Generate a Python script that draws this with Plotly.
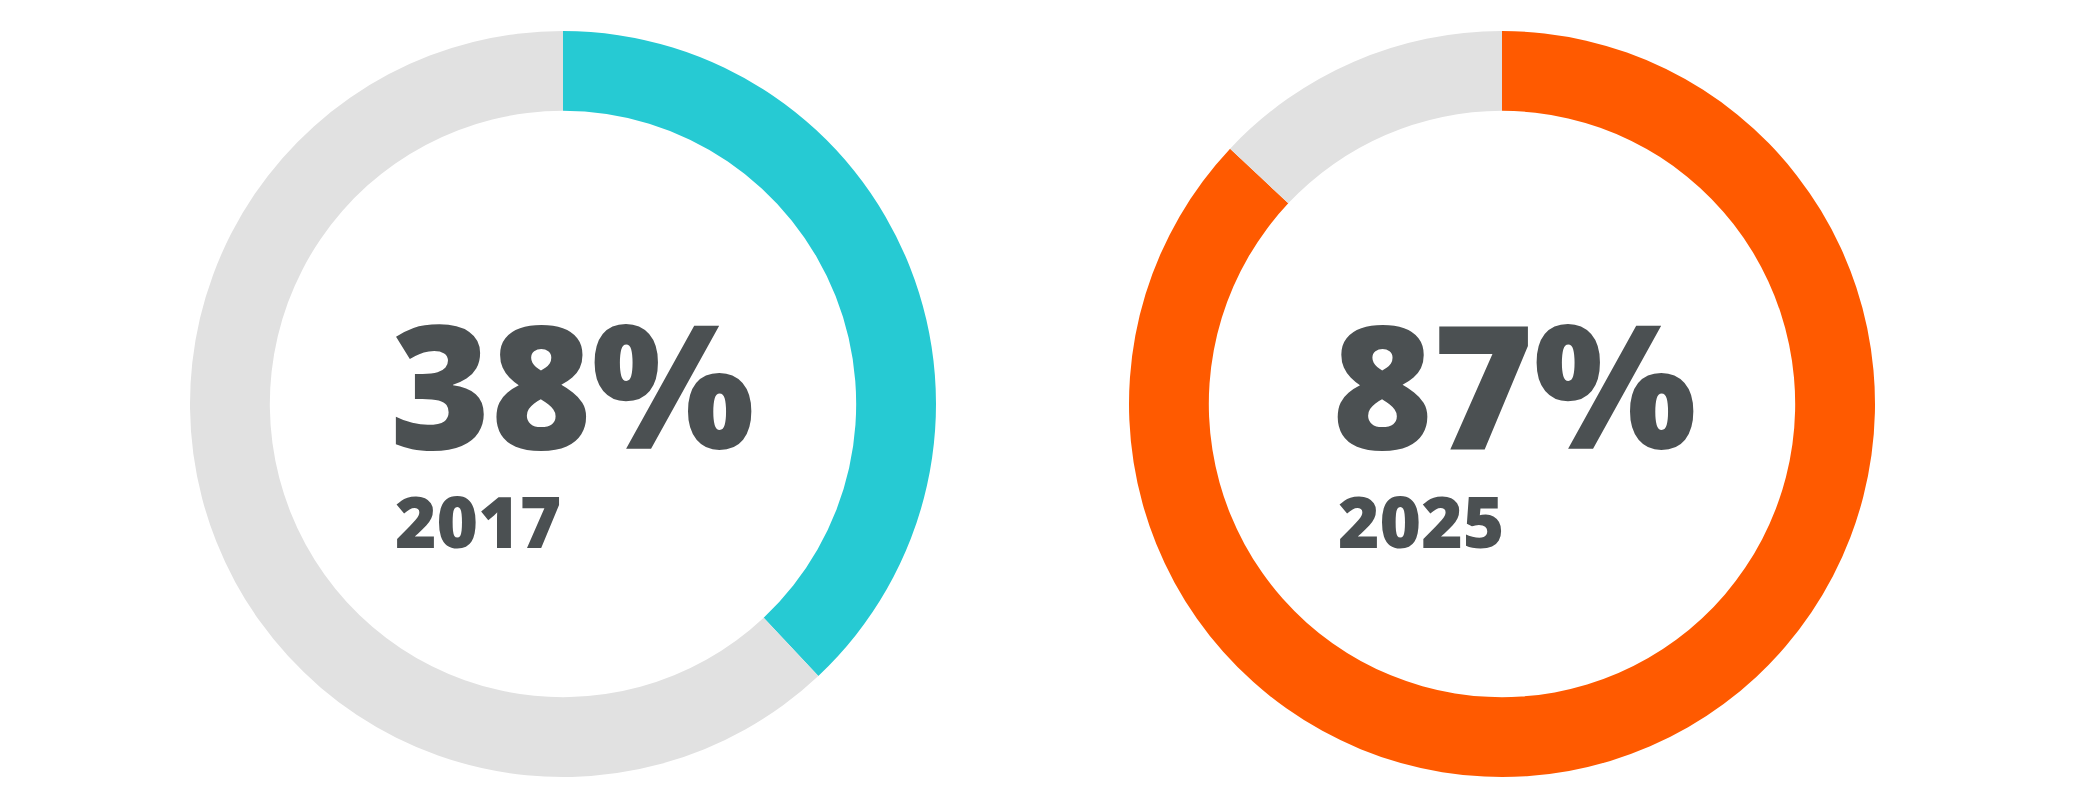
import plotly.graph_objects as go

# values
years = ["2017", "2025"]
shares = [38, 87]
accent_colors = ["#26cad3", "#ff5a00"]
rest_color = "#e1e1e1"
text_color = "#4b5052"

W, H = 2090, 799
MT, MB = 23, 30
PLOT_H = H - MT - MB

# pie placement (pixel centres) and text anchors (pixel left edge)
centres_x = [555, 1494]
radius = PLOT_H / 2
big_left = [380, 1322]
year_left = [385, 1328]


def px_x(px):
    return px / W


def px_y(py):
    return (H - MB - py) / PLOT_H


fig = go.Figure()

for i, (yr, v) in enumerate(zip(years, shares)):
    cx = centres_x[i]
    fig.add_trace(go.Pie(
        values=[v, 100 - v],
        labels=[f"{yr} yes", f"{yr} rest"],
        marker=dict(colors=[accent_colors[i], rest_color], line=dict(width=0)),
        hole=0.786,
        sort=False,
        direction="clockwise",
        rotation=0,
        textinfo="none",
        hoverinfo="skip",
        showlegend=False,
        domain=dict(x=[px_x(cx - radius), px_x(cx + radius)], y=[0, 1]),
    ))

    # big percentage, baseline around y=441
    fig.add_annotation(
        text=f"{v}%", x=px_x(big_left[i]), y=px_y(374),
        xref="paper", yref="paper", xanchor="left", yanchor="middle",
        showarrow=False,
        font=dict(family="Open Sans", size=172, weight=800, color=text_color),
    )
    # year underneath, baseline around y=540
    fig.add_annotation(
        text=yr, x=px_x(year_left[i]), y=px_y(512),
        xref="paper", yref="paper", xanchor="left", yanchor="middle",
        showarrow=False,
        font=dict(family="Open Sans", size=71, weight=800, color=text_color),
    )

fig.update_layout(
    width=W, height=H,
    margin=dict(l=0, r=0, t=MT, b=MB),
    paper_bgcolor="white",
    plot_bgcolor="white",
)

fig.write_html("out.html")
